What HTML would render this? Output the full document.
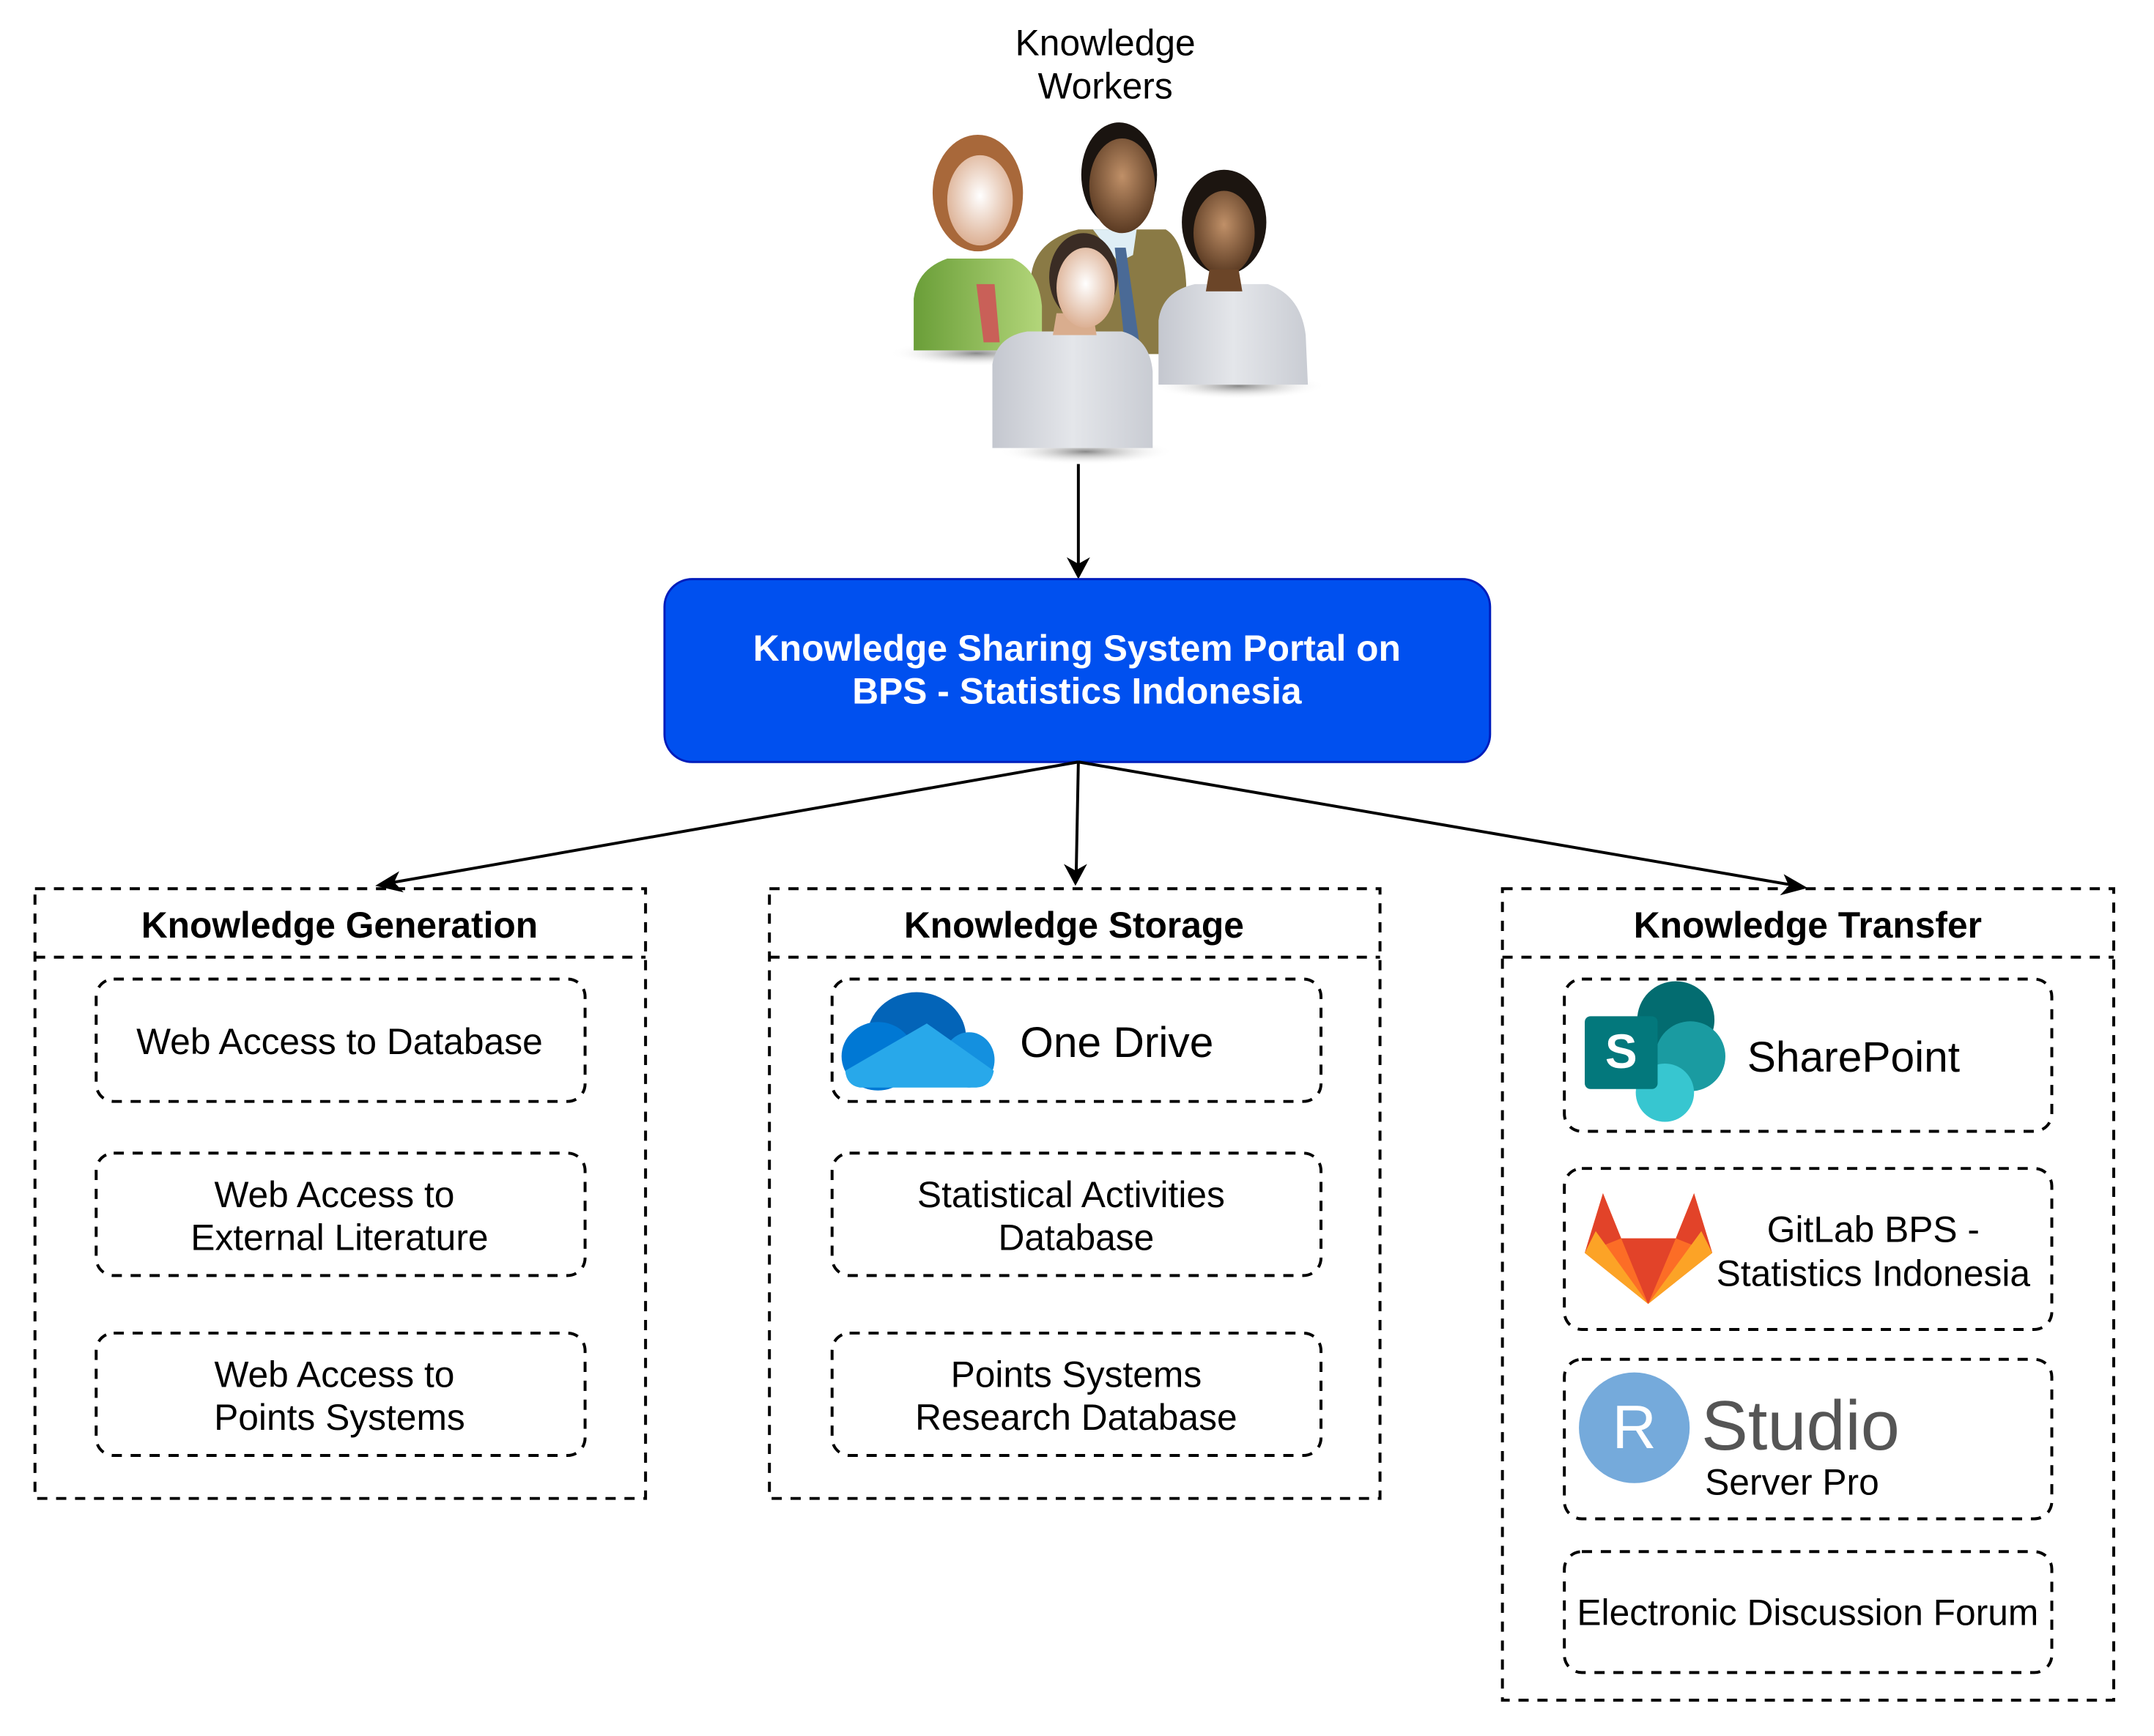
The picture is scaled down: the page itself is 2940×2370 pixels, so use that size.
<!DOCTYPE html>
<html><head><meta charset="utf-8"><style>
html,body{margin:0;padding:0;background:#fff;}
svg{display:block;}
text{font-family:"Liberation Sans",Arial,sans-serif;}
</style></head><body>
<svg width="2940" height="2370" viewBox="0 0 2940 2370" xmlns="http://www.w3.org/2000/svg">
<defs>
<radialGradient id="faceL" cx="50%" cy="45%" r="60%"><stop offset="0" stop-color="#fff"/><stop offset="1" stop-color="#d9a98a"/></radialGradient>
<radialGradient id="faceD" cx="50%" cy="40%" r="60%"><stop offset="0" stop-color="#c09068"/><stop offset="1" stop-color="#5a3a22"/></radialGradient>
<linearGradient id="white" x1="0" x2="1"><stop offset="0" stop-color="#c4c7cf"/><stop offset="0.5" stop-color="#e4e6ea"/><stop offset="1" stop-color="#c9ccd3"/></linearGradient>
<linearGradient id="green" x1="0" x2="1"><stop offset="0" stop-color="#6a9e38"/><stop offset="1" stop-color="#b3d67a"/></linearGradient>
<radialGradient id="shadow"><stop offset="0" stop-color="#888"/><stop offset="1" stop-color="#fff" stop-opacity="0"/></radialGradient>
</defs>
<g transform="scale(0.9945)">
<text x="1517" y="76" font-size="50" text-anchor="middle" fill="#000">Knowledge</text>
<text x="1517" y="135" font-size="50" text-anchor="middle" fill="#000">Workers</text>

<ellipse cx="1340" cy="485" rx="120" ry="18" fill="url(#shadow)"/>
<ellipse cx="1700" cy="530" rx="120" ry="18" fill="url(#shadow)"/>
<ellipse cx="1490" cy="620" rx="120" ry="18" fill="url(#shadow)"/>
<path d="M1415 486 L1415 380 Q1420 330 1480 315 L1600 315 Q1625 330 1628 390 L1628 486 Z" fill="#8a7a45"/>
<path d="M1500 315 L1560 315 L1555 350 L1535 360 Z" fill="#dfeef5"/>
<path d="M1530 340 L1545 340 L1565 480 L1545 486 Z" fill="#4a6a96"/>
<ellipse cx="1536" cy="240" rx="52" ry="72" fill="#1a1410"/>
<ellipse cx="1540" cy="255" rx="45" ry="65" fill="url(#faceD)"/>
<path d="M1254 481 L1254 410 Q1258 370 1300 355 L1390 355 Q1425 370 1430 420 L1430 481 Z" fill="url(#green)"/>
<path d="M1340 390 L1365 390 L1372 470 L1350 470 Z" fill="#c96058"/>
<ellipse cx="1342" cy="265" rx="62" ry="80" fill="#a8683a"/>
<ellipse cx="1345" cy="275" rx="45" ry="62" fill="url(#faceL)"/>
<path d="M1590 528 L1590 440 Q1595 400 1640 390 L1740 390 Q1785 405 1792 460 L1795 528 Z" fill="url(#white)"/>
<ellipse cx="1680" cy="305" rx="58" ry="72" fill="#1c1510"/>
<ellipse cx="1680" cy="320" rx="42" ry="58" fill="url(#faceD)"/>
<path d="M1660 370 L1700 370 L1705 400 L1655 400 Z" fill="#6b4528"/>
<path d="M1362 615 L1362 500 Q1368 462 1410 455 L1540 455 Q1578 465 1582 510 L1582 615 Z" fill="url(#white)"/>
<path d="M1450 430 L1500 430 L1505 460 L1445 460 Z" fill="#d9ad8e"/>
<ellipse cx="1487" cy="380" rx="47" ry="60" fill="#3a2c24"/>
<ellipse cx="1490" cy="395" rx="40" ry="55" fill="url(#faceL)"/>

<line x1="1480" y1="637" x2="1480" y2="780" stroke="#000" stroke-width="4"/>
<path d="M1480 795 L1464 765 L1480 774 L1496 765 Z" fill="#000"/>

<rect x="912" y="795" width="1133" height="251" rx="38" fill="#0050ef" stroke="#001dbc" stroke-width="3"/>
<text x="1478" y="907" font-size="50" font-weight="bold" fill="#fff" text-anchor="middle">Knowledge Sharing System Portal on</text>
<text x="1478" y="966" font-size="50" font-weight="bold" fill="#fff" text-anchor="middle">BPS - Statistics Indonesia</text>

<g stroke="#000" stroke-width="4" fill="none">
<line x1="1480" y1="1046" x2="530" y2="1213"/>
<line x1="1480" y1="1046" x2="1477" y2="1200"/>
<line x1="1480" y1="1046" x2="2466" y2="1216"/>
</g>
<path d="M515 1216 L548 1196 L541 1211 L554 1225 Z" fill="#000"/>
<path d="M1476 1216 L1460 1186 L1476 1195 L1492 1186 Z" fill="#000"/>
<path d="M2481 1219 L2443 1229 L2455 1216 L2448 1200 Z" fill="#000"/>

<g fill="none" stroke="#000" stroke-width="4" stroke-dasharray="14 12">
<rect x="48" y="1220" width="838" height="837"/>
<line x1="48" y1="1314" x2="886" y2="1314"/>
<rect x="1056" y="1220" width="838" height="837"/>
<line x1="1056" y1="1314" x2="1894" y2="1314"/>
<rect x="2062" y="1220" width="839" height="1114"/>
<line x1="2062" y1="1314" x2="2901" y2="1314"/>
<rect x="132" y="1344" width="671" height="168" rx="24"/>
<rect x="132" y="1583" width="671" height="168" rx="24"/>
<rect x="132" y="1830" width="671" height="168" rx="24"/>
<rect x="1142" y="1344" width="671" height="168" rx="24"/>
<rect x="1142" y="1583" width="671" height="168" rx="24"/>
<rect x="1142" y="1830" width="671" height="168" rx="24"/>
<rect x="2147" y="1344" width="669" height="209" rx="24"/>
<rect x="2147" y="1604" width="669" height="221" rx="24"/>
<rect x="2147" y="1866" width="669" height="219" rx="24"/>
<rect x="2147" y="2130" width="669" height="166" rx="24"/>
</g>

<g font-size="50" font-weight="bold" text-anchor="middle" fill="#000">
<text x="466" y="1287">Knowledge Generation</text>
<text x="1474" y="1287">Knowledge Storage</text>
<text x="2481" y="1287">Knowledge Transfer</text>
</g>

<g font-size="50" text-anchor="middle" fill="#000">
<text x="466" y="1447">Web Access to Database</text>
<text x="459" y="1657">Web Access to</text>
<text x="466" y="1716">External Literature</text>
<text x="459" y="1904">Web Access to</text>
<text x="466" y="1963">Points Systems</text>
<text x="1470" y="1657">Statistical Activities</text>
<text x="1477" y="1716">Database</text>
<text x="1477" y="1904">Points Systems</text>
<text x="1477" y="1963">Research Database</text>
<text x="2571" y="1705">GitLab BPS -</text>
<text x="2571" y="1765">Statistics Indonesia</text>
<text x="2481" y="2231">Electronic Discussion Forum</text>
</g>

<ellipse cx="1258" cy="1425" rx="68" ry="63" fill="#0364b8"/>
<ellipse cx="1205" cy="1450" rx="50" ry="47" fill="#0078d4"/>
<ellipse cx="1330" cy="1455" rx="35" ry="38" fill="#1490df"/>
<path d="M1160 1470 L1272 1405 L1364 1470 Q1360 1492 1340 1493 L1180 1493 Q1162 1490 1160 1470 Z" fill="#28a8ea"/>
<text x="1400" y="1451" font-size="59" fill="#000">One Drive</text>

<circle cx="2300" cy="1400" r="53" fill="#036c70"/>
<circle cx="2320" cy="1450" r="48" fill="#1a9ba1"/>
<circle cx="2285" cy="1500" r="40" fill="#37c6d0"/>
<rect x="2175" y="1395" width="100" height="100" rx="8" fill="#03787c"/>
<text x="2225" y="1466" font-size="66" font-weight="bold" fill="#fff" text-anchor="middle">S</text>
<text x="2398" y="1471" font-size="59" fill="#000">SharePoint</text>

<path d="M2175 1720 L2200 1638 L2225 1700 L2300 1700 L2325 1638 L2350 1720 L2262 1790 Z" fill="#fc6d26"/>
<path d="M2175 1720 L2200 1638 L2225 1700 Z" fill="#e24329"/>
<path d="M2350 1720 L2325 1638 L2300 1700 Z" fill="#e24329"/>
<path d="M2225 1700 L2300 1700 L2262 1790 Z" fill="#e24329"/>
<path d="M2175 1720 L2190 1690 L2262 1790 Z" fill="#fca326"/>
<path d="M2350 1720 L2335 1690 L2262 1790 Z" fill="#fca326"/>

<circle cx="2243" cy="1960" r="76" fill="#75aadb"/>
<text x="2243" y="1988" font-size="84" fill="#fff" text-anchor="middle" font-family="Liberation Serif, serif">R</text>
<text x="2335" y="1990" font-size="96" fill="#555">Studio</text>
<text x="2340" y="2052" font-size="50" fill="#000">Server Pro</text>
</g>
</svg>
</body></html>
